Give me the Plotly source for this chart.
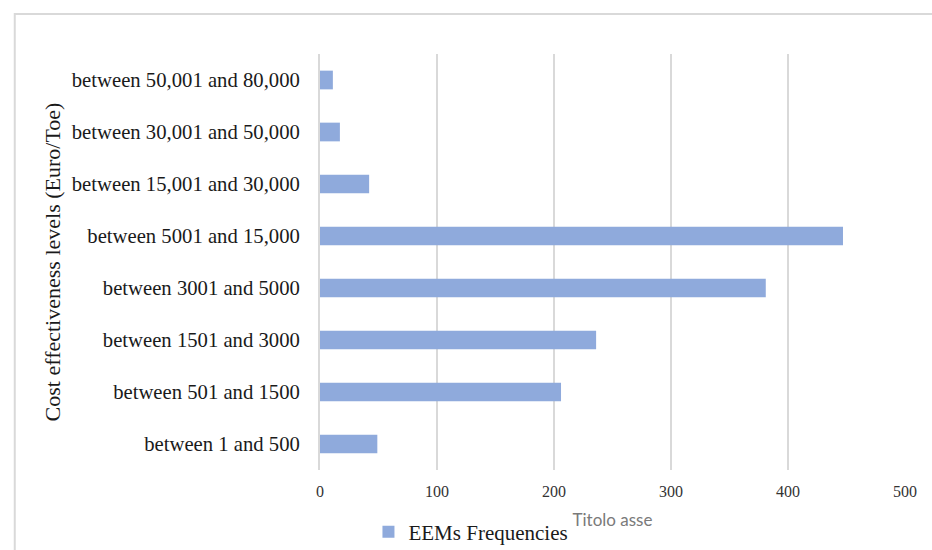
import plotly.graph_objects as go

# Cost-effectiveness classes (Euro/Toe), listed bottom to top
levels = [
    "between 1 and 500",
    "between 501 and 1500",
    "between 1501 and 3000",
    "between 3001 and 5000",
    "between 5001 and 15,000",
    "between 15,001 and 30,000",
    "between 30,001 and 50,000",
    "between 50,001 and 80,000",
]
# Number of energy-efficiency measures in each class
frequencies = [49, 206, 236, 381, 447, 42, 17, 11]
x_ticks = [0, 100, 200, 300, 400, 500]

series_name = "EEMs Frequencies"
x_title = "Titolo asse"
y_title = "Cost effectiveness levels (Euro/Toe)"

serif = "Liberation Serif, Times New Roman, serif"
grid = "#d9d9d9"

W, H = 932, 550
L, R, T, B = 319.5, 27, 54, 80
pw, ph = W - L - R, H - T - B


def px_to_paper_x(px):
    return (px - L) / pw


def px_to_paper_y(py):
    return (H - B - py) / ph


fig = go.Figure(
    go.Bar(
        x=frequencies,
        y=levels,
        orientation="h",
        name=series_name,
        marker=dict(color="#8faadc", line=dict(width=0)),
        width=0.36,
        showlegend=True,
    )
)

fig.update_layout(
    width=W,
    height=H,
    margin=dict(l=L, r=R, t=T, b=B, autoexpand=False),
    paper_bgcolor="white",
    plot_bgcolor="white",
    font=dict(family=serif, color="#1a1a1a"),
    bargap=0.64,
    showlegend=True,
    legend=dict(
        orientation="h",
        x=px_to_paper_x(368),
        xanchor="left",
        y=px_to_paper_y(532),
        yanchor="middle",
        font=dict(family=serif, size=21, color="#1a1a1a"),
        bgcolor="rgba(0,0,0,0)",
    ),
    xaxis=dict(
        range=[0, 500],
        tickvals=x_ticks,
        showgrid=True,
        gridcolor=grid,
        gridwidth=2,
        zeroline=False,
        showline=False,
        ticks="",
        tickfont=dict(family=serif, size=16, color="#333333"),
        ticklabelstandoff=10,
        title=dict(
            text=x_title,
            font=dict(family="Lato, Liberation Sans, sans-serif", size=17, color="#7a7a7a"),
            standoff=15,
        ),
        fixedrange=True,
    ),
    yaxis=dict(
        type="category",
        categoryorder="array",
        categoryarray=levels,
        showgrid=False,
        zeroline=False,
        showline=True,
        linecolor=grid,
        linewidth=2,
        ticks="",
        tickfont=dict(family=serif, size=20.7, color="#1a1a1a"),
        ticklabelstandoff=14,
        title=dict(
            text=y_title,
            font=dict(family=serif, size=22, color="#1a1a1a"),
            standoff=5,
        ),
        fixedrange=True,
    ),
    shapes=[
        dict(
            type="rect",
            xref="paper",
            yref="paper",
            x0=px_to_paper_x(14),
            x1=px_to_paper_x(W + 20),
            y0=px_to_paper_y(H + 20),
            y1=px_to_paper_y(14),
            line=dict(color=grid, width=2),
            fillcolor="rgba(0,0,0,0)",
            layer="below",
        )
    ],
)

fig.write_html("out.html", config={"displayModeBar": False})
